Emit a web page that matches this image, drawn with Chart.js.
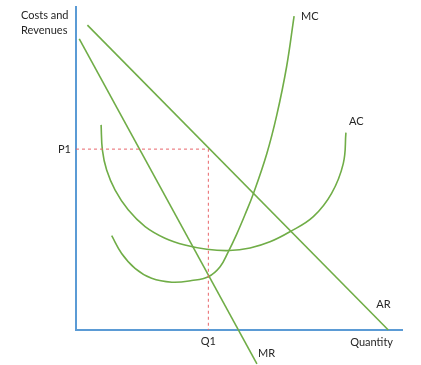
<!DOCTYPE html>
<html><head><meta charset="utf-8">
<script src="https://cdn.jsdelivr.net/npm/chart.js@4"></script>
<style>html,body{margin:0;padding:0;background:#fff}#w{width:421px;height:365px}</style>
</head><body><div id="w"><canvas id="c"></canvas></div>
<script>
// Quantity (x) and Costs/Revenues (y), in chart units 0-100
const arX = [3.5, 95.8];
const arY = [94.4, 0];
const mrX = [1.0, 55.5];
const mrY = [90.1, -10.5];
const mcX = [10.95, 14.0, 18.1, 23.2, 29.4, 35.5, 40.6, 44.2, 46.7, 49.3, 51.8, 54.4, 58.5, 61.6, 64.6, 66.9];
const mcY = [29.2, 23.7, 19.1, 16.0, 14.8, 15.3, 16.5, 19.6, 24.2, 29.7, 35.6, 42.2, 54.5, 66.6, 81.5, 97.2];
const acX = [7.7, 8.1, 9.4, 12.0, 16.0, 21.2, 27.3, 33.4, 40.1, 47.0, 53.4, 59.5, 65.6, 72.8, 78.4, 82.0, 82.8];
const acY = [63.5, 55.7, 49.5, 43.3, 37.2, 32.0, 28.4, 26.3, 25.0, 24.6, 25.4, 27.3, 30.4, 35.1, 42.3, 51.6, 61.1];
const Q1 = 40.6;
const P1 = 56.0;
const axisLabels = {x: 'Quantity', y: ['Costs and', 'Revenues']};
const curveNames = ['AR', 'MR', 'MC', 'AC'];
const tickNames = {q: 'Q1', p: 'P1'};

const pts = (xs, ys) => xs.map((x, i) => ({x, y: ys[i]}));
const green = '#70AD47';
const red = '#E8656A';

const labels = {
  id: 'labels',
  afterDatasetsDraw(chart) {
    const {ctx, scales: {x, y}} = chart;
    ctx.save();
    ctx.fillStyle = '#262626';
    ctx.font = '11px Lato, "Open Sans", sans-serif';
    ctx.textBaseline = 'middle';
    const t = (s, px, py, al) => { ctx.textAlign = al || 'left'; ctx.fillText(s, px, py); };
    t(axisLabels.y[0], x.left - 55, y.top + 8);
    t(axisLabels.y[1], x.left - 55, y.top + 23);
    t(axisLabels.x, x.right - 9, y.getPixelForValue(0) + 12, 'right');
    t(tickNames.p, x.left - 5, y.getPixelForValue(P1), 'right');
    t(tickNames.q, x.getPixelForValue(Q1), y.getPixelForValue(0) + 11, 'center');
    t(curveNames[0], x.getPixelForValue(arX[1]) - 12, y.getPixelForValue(0) - 26);
    t(curveNames[1], x.getPixelForValue(mrX[1]) + 1, y.getPixelForValue(mrY[1]) - 10);
    t(curveNames[2], x.getPixelForValue(mcX[mcX.length-1]) + 7, y.getPixelForValue(mcY[mcY.length-1]));
    t(curveNames[3], x.getPixelForValue(acX[acX.length-1]) + 3, y.getPixelForValue(acY[acY.length-1]) - 11);
    ctx.restore();
  }
};

const lineDs = (data, extra) => Object.assign({
  data, borderColor: green, borderWidth: 1.6, pointRadius: 0, showLine: true, fill: false,
  tension: 0.4, clip: false
}, extra || {});

new Chart(document.getElementById('c'), {
  type: 'scatter',
  data: {
    datasets: [
      lineDs([{x: 0, y: P1}, {x: Q1, y: P1}, {x: Q1, y: 0}], {borderColor: red, borderWidth: 1, borderDash: [3, 3], tension: 0}),
      lineDs(pts(arX, arY), {tension: 0}),
      lineDs(pts(mrX, mrY), {tension: 0}),
      lineDs(pts(mcX, mcY)),
      lineDs(pts(acX, acY))
    ]
  },
  options: {
    responsive: true, maintainAspectRatio: false, animation: false,
    layout: {padding: {left: 76, top: 7, right: 19, bottom: 35}},
    plugins: {legend: {display: false}, tooltip: {enabled: false}},
    scales: {
      x: {type: 'linear', min: 0, max: 100,
          ticks: {display: false}, grid: {display: false, drawTicks: false},
          border: {display: true, color: '#5B9BD5', width: 2}},
      y: {type: 'linear', min: 0, max: 100,
          ticks: {display: false}, grid: {display: false, drawTicks: false},
          border: {display: true, color: '#5B9BD5', width: 2}}
    }
  },
  plugins: [labels]
});
</script>
</body></html>
